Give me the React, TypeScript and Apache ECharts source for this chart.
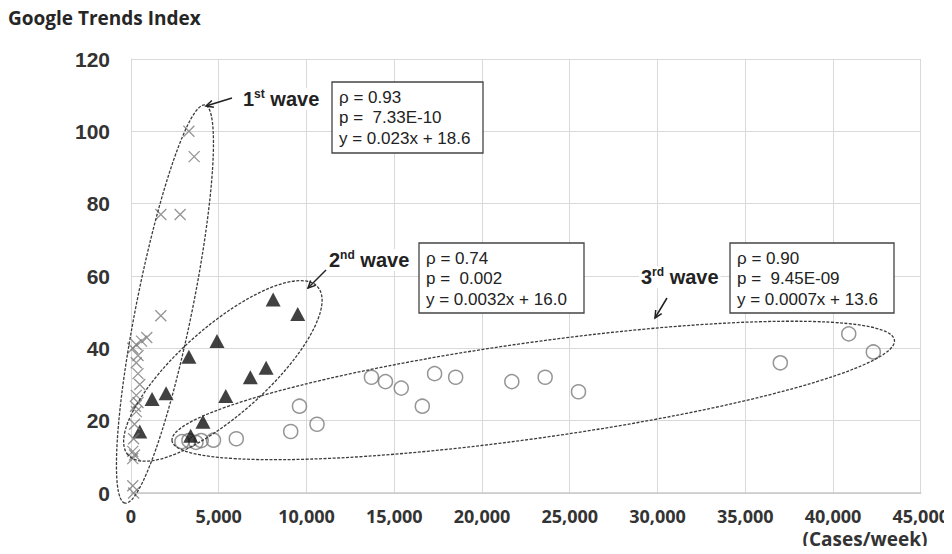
import React, { useEffect, useRef } from 'react';
import * as echarts from 'echarts';

// ---- data ----
const xMin = 0;
const xMax = 45000;
const xInterval = 5000;
const yMin = 0;
const yMax = 120;
const yInterval = 20;

// 1st wave (x markers)
const wave1: [number, number][] = [
  [3300, 100], [3600, 93], [1700, 77], [2800, 77], [1700, 49],
  [900, 43], [600, 42], [300, 41], [100, 40], [400, 38], [300, 36],
  [400, 33], [500, 30], [300, 27], [400, 25], [250, 24], [300, 22.5],
  [200, 19], [150, 15], [100, 11.5], [200, 10.5], [100, 9.5], [100, 2], [150, 0],
];

// 2nd wave (filled triangles)
const wave2: [number, number][] = [
  [8100, 53.5], [9500, 49.5], [4900, 42], [3300, 37.7], [7700, 34.6],
  [6800, 32], [2000, 27.6], [1200, 26], [5400, 26.8], [4100, 19.7],
  [3400, 15.8], [500, 17],
];

// 3rd wave (open circles)
const wave3: [number, number][] = [
  [2900, 14.2], [3300, 14.5], [3700, 14], [4000, 14.5], [4700, 14.6],
  [6000, 15], [9100, 17], [9600, 24], [10600, 19], [13700, 32],
  [14500, 30.8], [15400, 29], [16600, 24], [17300, 33], [18500, 32],
  [21700, 30.8], [23600, 32], [25500, 28], [37000, 36], [40900, 44],
  [42300, 39],
];

// ellipses enclosing each wave: tips in data coords, half width in px
const ellipseTips: [number, number][][] = [
  [[-340, -2.8], [4210, 107.3]],
  [[-170, 10.5], [10640, 57]],
  [[2330, 14.4], [43510, 42.3]],
];
const ellipseHalfWidths = [28, 44, 48];

const waveLabels = [
  { n: '1', s: 'st' },
  { n: '2', s: 'nd' },
  { n: '3', s: 'rd' },
];
const statLines = [
  ['\u03C1 = 0.93', 'p =  7.33E-10', 'y = 0.023x + 18.6'],
  ['\u03C1 = 0.74', 'p =  0.002', 'y = 0.0032x + 16.0'],
  ['\u03C1 = 0.90', 'p =  9.45E-09', 'y = 0.0007x + 13.6'],
];

const titleText = 'Google Trends Index';
const xUnitText = '(Cases/week)';

// ---- layout (pixels) ----
const GRID = { left: 131, right: 30, top: 59, bottom: 61 };
const labelPos = [
  { x: 241, y: 99 },
  { x: 327, y: 260 },
  { x: 639, y: 277 },
];
const boxes = [
  { x: 332, y: 82, w: 151, h: 71 },
  { x: 419, y: 243, w: 165, h: 70 },
  { x: 730, y: 243, w: 164, h: 70 },
];
const arrows = [
  { from: [232, 98], to: [206, 106] },
  { from: [326, 270], to: [308, 288] },
  { from: [667, 298], to: [655, 318] },
];

const BOLD_SANS = '"Open Sans", "Noto Sans", sans-serif';
const ARIAL = '"Liberation Sans", Arial, sans-serif';

export default function App() {
  const ref = useRef<HTMLDivElement>(null);

  useEffect(() => {
    if (!ref.current) return;
    const chart = echarts.init(ref.current, undefined, { renderer: 'svg' });

    const option: any = {
      animation: false,
      backgroundColor: '#ffffff',
      title: {
        text: titleText,
        left: 3,
        top: 3,
        textStyle: { fontFamily: BOLD_SANS, fontWeight: 'bold', fontSize: 19, color: '#262626' },
      },
      grid: { ...GRID },
      xAxis: {
        type: 'value',
        min: xMin,
        max: xMax,
        interval: xInterval,
        axisLine: { show: true, lineStyle: { color: '#c8c8c8', width: 1.5 } },
        axisTick: { show: false },
        splitLine: { show: true, lineStyle: { color: '#d9d9d9', width: 1 } },
        axisLabel: {
          margin: 14,
          fontFamily: BOLD_SANS,
          fontWeight: 'bold',
          fontSize: 18,
          color: '#333',
          formatter: (v: number) => v.toLocaleString('en-US'),
          showMaxLabel: true,
          hideOverlap: false,
        },
      },
      yAxis: {
        type: 'value',
        min: yMin,
        max: yMax,
        interval: yInterval,
        axisLine: { show: true, lineStyle: { color: '#d9d9d9', width: 1 } },
        axisTick: { show: false },
        splitLine: { show: true, lineStyle: { color: '#d9d9d9', width: 1 } },
        axisLabel: {
          margin: 21,
          fontFamily: ARIAL,
          fontWeight: 'bold',
          fontSize: 21,
          color: '#333',
        },
      },
      series: [
        {
          name: '3rd wave',
          type: 'scatter',
          data: wave3,
          symbol: 'circle',
          symbolSize: 14,
          itemStyle: { color: 'rgba(255,255,255,0)', borderColor: '#7a7a7a', borderWidth: 1.5 },
          z: 2,
        },
        {
          name: '2nd wave',
          type: 'scatter',
          data: wave2,
          symbol: 'triangle',
          symbolSize: [15, 14],
          itemStyle: { color: '#111111' },
          z: 3,
        },
        {
          name: '1st wave',
          type: 'scatter',
          data: wave1,
          symbol: 'path://M0,0 L10,10 M10,0 L0,10',
          symbolSize: 11,
          itemStyle: { color: 'rgba(0,0,0,0)', borderColor: '#7a7a7a', borderWidth: 1.3 },
          z: 4,
        },
      ],
    };
    chart.setOption(option);

    const graphics: any[] = [];
    ellipseTips.forEach((tips, i) => {
      const p1 = chart.convertToPixel({ gridIndex: 0 }, tips[0]) as number[];
      const p2 = chart.convertToPixel({ gridIndex: 0 }, tips[1]) as number[];
      const cx = (p1[0] + p2[0]) / 2;
      const cy = (p1[1] + p2[1]) / 2;
      const dx = p2[0] - p1[0];
      const dy = p1[1] - p2[1];
      const a = Math.sqrt(dx * dx + dy * dy) / 2;
      const ang = Math.atan2(dy, dx);
      graphics.push({
        type: 'ellipse',
        x: cx,
        y: cy,
        rotation: ang,
        shape: { cx: 0, cy: 0, rx: a, ry: ellipseHalfWidths[i] },
        style: { fill: 'none', stroke: '#3c3c3c', lineWidth: 1.3, lineDash: [3, 1.5] },
        z: 50,
        silent: true,
      });
    });

    boxes.forEach((b, i) => {
      graphics.push({
        type: 'rect',
        shape: { x: b.x, y: b.y, width: b.w, height: b.h },
        style: { fill: '#ffffff', stroke: '#444444', lineWidth: 1.3 },
        z: 60,
      });
      statLines[i].forEach((t, j) => {
        graphics.push({
          type: 'text',
          x: b.x + 7,
          y: b.y + 15 + j * 20.5,
          style: {
            text: t,
            font: `17px ${ARIAL}`,
            fill: '#222',
            textAlign: 'left',
            textVerticalAlign: 'middle',
            align: 'left',
            verticalAlign: 'middle',
          },
          z: 61,
        });
      });
    });

    waveLabels.forEach((w, i) => {
      graphics.push({
        type: 'text',
        x: labelPos[i].x,
        y: labelPos[i].y,
        style: {
          text: `{n|${w.n}}{s|${w.s}}{n| wave}`,
          rich: {
            n: { fontFamily: ARIAL, fontWeight: 'bold', fontSize: 20, fill: '#222', color: '#222', lineHeight: 22 },
            s: { fontFamily: ARIAL, fontWeight: 'bold', fontSize: 12, fill: '#222', color: '#222', verticalAlign: 'top', lineHeight: 13 },
          },
          textAlign: 'left',
          textVerticalAlign: 'middle',
          align: 'left',
          verticalAlign: 'middle',
          backgroundColor: '#ffffff',
          padding: [0, 2],
        },
        z: 60,
      });
    });

    arrows.forEach((ar) => {
      const [fx, fy] = ar.from;
      const [tx, ty] = ar.to;
      const ang = Math.atan2(ty - fy, tx - fx);
      const hl = 8;
      const spread = 0.45;
      const h1 = [tx - hl * Math.cos(ang - spread), ty - hl * Math.sin(ang - spread)];
      const h2 = [tx - hl * Math.cos(ang + spread), ty - hl * Math.sin(ang + spread)];
      graphics.push({
        type: 'line',
        shape: { x1: fx, y1: fy, x2: tx, y2: ty },
        style: { stroke: '#222', lineWidth: 1.5 },
        z: 62,
      });
      graphics.push({
        type: 'polyline',
        shape: { points: [h1, [tx, ty], h2] },
        style: { stroke: '#222', lineWidth: 1.5, fill: 'none' },
        z: 62,
      });
    });

    graphics.push({
      type: 'text',
      x: 865,
      y: 539,
      style: {
        text: xUnitText,
        font: `bold 19px ${BOLD_SANS}`,
        fill: '#333',
        textAlign: 'center',
        textVerticalAlign: 'middle',
        align: 'center',
        verticalAlign: 'middle',
      },
      z: 60,
    });

    chart.setOption({ graphic: graphics });

    return () => {
      chart.dispose();
    };
  }, []);

  return <div ref={ref} style={{ width: 952, height: 554, margin: -8 }} />;
}
